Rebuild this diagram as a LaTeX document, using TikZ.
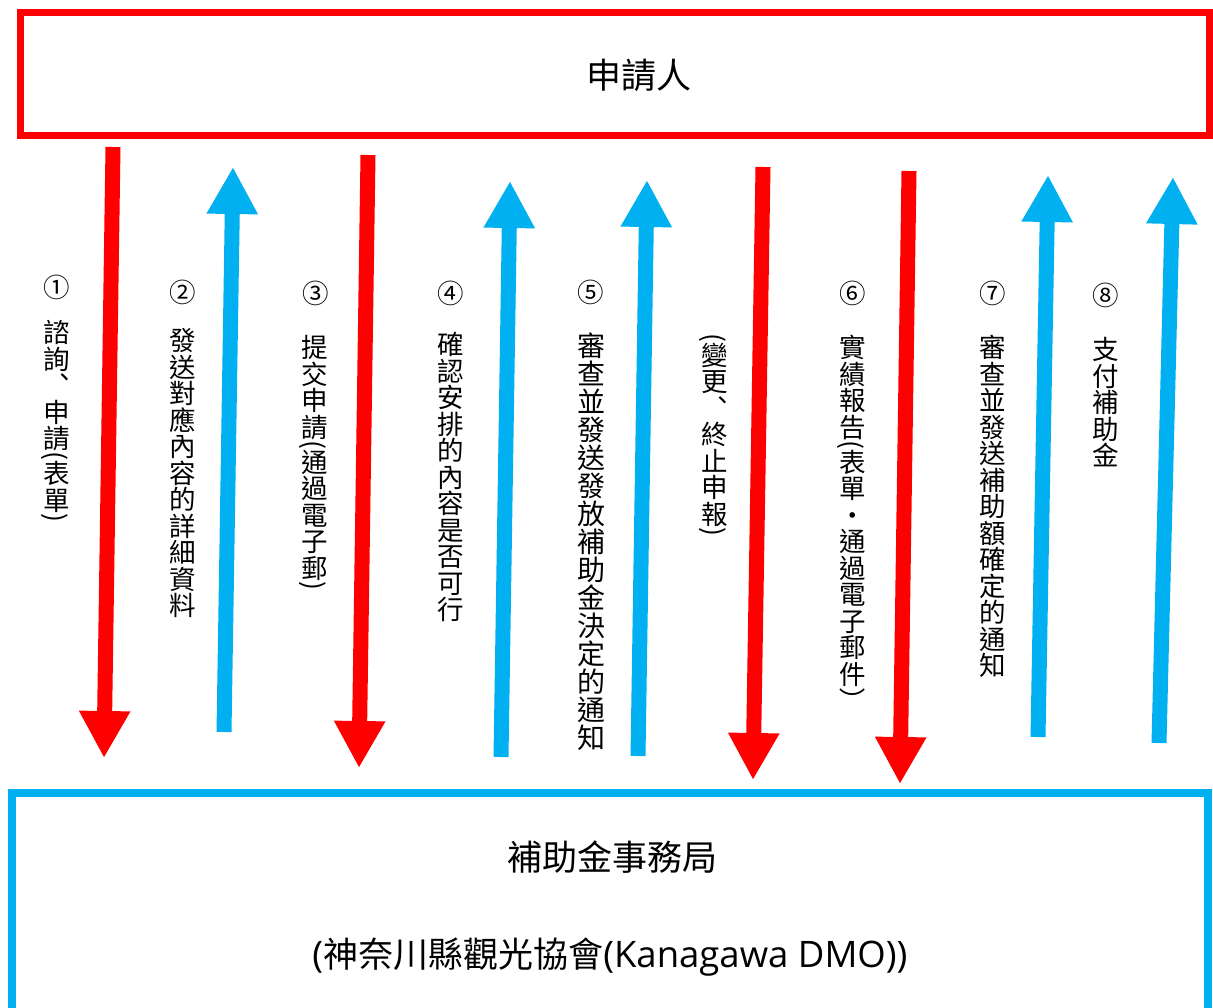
\documentclass[tikz,border=0pt]{standalone}
\usepackage{fontspec}
\setmainfont{Noto Sans CJK TC}
\newfontfamily\latinfont{Open Sans}
\usetikzlibrary{arrows.meta}
\definecolor{appred}{HTML}{FF0000}
\definecolor{officeblue}{HTML}{00B0F0}
% one upright character of a vertical column
\newcommand\vc[1]{\rotatebox[origin=c]{90}{\rule[-0.12em]{0pt}{1em}#1}}
\def\vstr#1{\vstrloop#1\relax}
\def\vstrloop#1{\ifx#1\relax\else\vc{#1}\expandafter\vstrloop\fi}
\newcommand\lat[1]{{\latinfont\fontsize{36.5pt}{36.5pt}\selectfont #1}}
\begin{document}
\begin{tikzpicture}[x=1pt, y=-1pt,
        redarrow/.style={color=appred, line width=15pt, -{Triangle[width=48pt,length=47pt]}},
        bluearrow/.style={color=officeblue, line width=15pt, -{Triangle[width=48pt,length=47pt]}},
        boxtext/.style={font=\fontsize{35pt}{35pt}\selectfont},
        vlabel/.style={rotate=-90, anchor=west, inner sep=0pt, text height=23.3pt, text depth=3.2pt,
            font=\fontsize{26.5pt}{26.5pt}\selectfont},
        numlabel/.style={inner sep=0pt, font=\fontsize{26.5pt}{26.5pt}\selectfont}]
        \path [use as bounding box, fill=white] (0, 0) rectangle (1213, 1007);
        \begin{scope}[every node/.style={inner sep=0pt}]
            \node [draw=appred, line width=7pt, minimum width=1189pt, minimum height=123pt] (applicant) at (615, 74) {};
            \node [draw=officeblue, line width=8pt, minimum width=1196pt, minimum height=240pt] (office) at (610, 913) {};
            \node [boxtext] (applicantname) at (639, 75) {申請人};
            \node [boxtext] (officename) at (612, 857) {補助金事務局};
            \node [boxtext] (officeorg) at (610, 957) {\lat{(}神奈川縣觀光協會\lat{(Kanagawa DMO))}};
        \end{scope}
        \begin{scope}
            \node [numlabel] (n1) at (57, 287) {①};
            \node [numlabel] (n2) at (183, 292) {②};
            \node [numlabel] (n3) at (316, 293) {③};
            \node [numlabel] (n4) at (451, 293) {④};
            \node [numlabel] (n5) at (591, 292) {⑤};
            \node [numlabel] (n6) at (853, 293) {⑥};
            \node [numlabel] (n7) at (993, 293) {⑦};
            \node [numlabel] (n8) at (1106, 295) {⑧};
            \node [vlabel] (t1) at (57, 319) {\vstr{諮詢︑申請}(\vstr{表單})};
            \node [vlabel] (t2) at (183, 327) {\vstr{發送對應內容的詳細資料}};
            \node [vlabel] (t3) at (315, 334) {\vstr{提交申請}(\vstr{通過電子郵})};
            \node [vlabel] (t4) at (451, 331) {\vstr{確認安排的內容是否可行}};
            \node [vlabel, font=\fontsize{28pt}{28pt}\selectfont] (t5) at (591, 332) {\vstr{審查並發送發放補助金決定的通知}};
            \node [vlabel] (tc) at (715, 333) {(\vstr{變更︑終止申報})};
            \node [vlabel] (t6) at (853, 334) {\vstr{實績報告}(\vstr{表單・通過電子郵件}）};
            \node [vlabel] (t7) at (993, 334) {\vstr{審查並發送補助額確定的通知}};
            \node [vlabel] (t8) at (1106, 336) {\vstr{支付補助金}};
        \end{scope}
        \coordinate (a1s) at (113, 147);  \coordinate (a1e) at (104, 758);
        \coordinate (a2s) at (224, 732);  \coordinate (a2e) at (233, 167);
        \coordinate (a3s) at (368, 155);  \coordinate (a3e) at (359, 768);
        \coordinate (a4s) at (501, 757);  \coordinate (a4e) at (510, 181);
        \coordinate (a5s) at (638, 756);  \coordinate (a5e) at (647, 180);
        \coordinate (a6s) at (763, 167);  \coordinate (a6e) at (753, 780);
        \coordinate (a7s) at (909, 171);  \coordinate (a7e) at (900, 784);
        \coordinate (a8s) at (1038, 737); \coordinate (a8e) at (1048, 175);
        \coordinate (a9s) at (1159, 743); \coordinate (a9e) at (1173, 177);
        \begin{scope}
            \path [redarrow] (a1s) edge (a1e);
            \path [bluearrow] (a2s) edge (a2e);
            \path [redarrow] (a3s) edge (a3e);
            \path [bluearrow] (a4s) edge (a4e);
            \path [bluearrow] (a5s) edge (a5e);
            \path [redarrow] (a6s) edge (a6e);
            \path [redarrow] (a7s) edge (a7e);
            \path [bluearrow] (a8s) edge (a8e);
            \path [bluearrow] (a9s) edge (a9e);
        \end{scope}
    \end{tikzpicture}
\end{document}
